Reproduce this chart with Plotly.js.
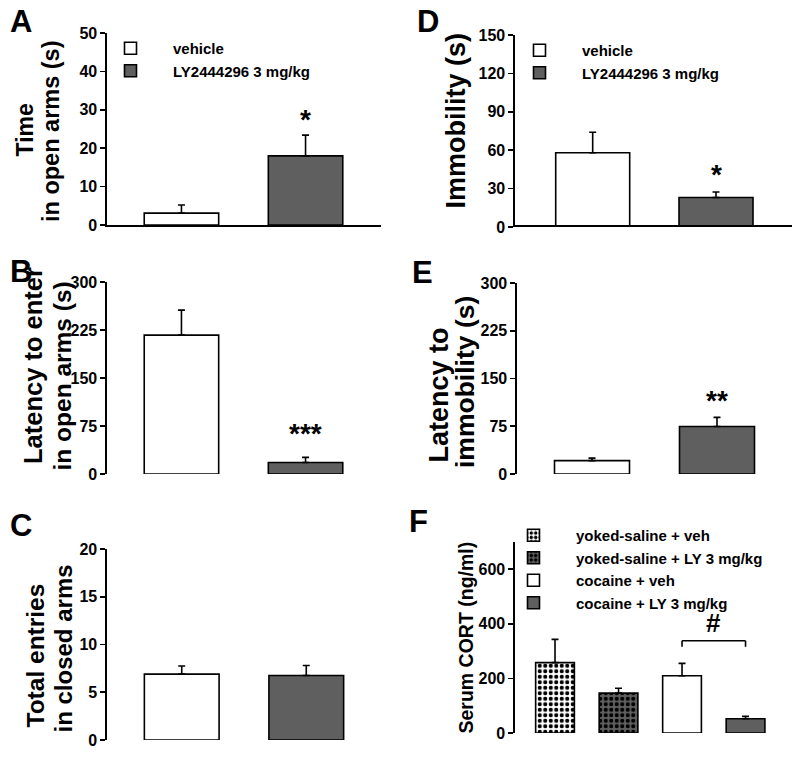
<!DOCTYPE html>
<html>
<head>
<meta charset="utf-8">
<script src="https://cdn.plot.ly/plotly-3.0.1.min.js"></script>
<style>html,body{margin:0;padding:0;background:#fff;}#chart{width:800px;height:758px;}</style>
</head>
<body>
<div id="chart"></div>
<script>
// ---------- data ----------
const groups2 = ['vehicle', 'LY2444296 3 mg/kg'];
const timeOpenArms = [3.1, 18.0];
const timeOpenArmsSem = [2.1, 5.4];
const latencyOpenArms = [217, 18];
const latencyOpenArmsSem = [39, 8];
const closedEntries = [6.9, 6.75];
const closedEntriesSem = [0.85, 1.05];
const immobility = [58, 23];
const immobilitySem = [16, 4.3];
const latencyImmobility = [21, 74.5];
const latencyImmobilitySem = [4, 14.5];
const groupsF = ['yoked-saline + veh', 'yoked-saline + LY 3 mg/kg', 'cocaine + veh', 'cocaine + LY 3 mg/kg'];
const serumCort = [258, 146, 210, 52];
const serumCortSem = [85, 18, 45, 9];
// axis titles (one entry per printed line)
const titleA = ['Time', 'in open arms (s)'];
const titleB = ['Latency to enter', 'in open arms (s)'];
const titleC = ['Total entries', 'in closed arms'];
const titleD = ['Immobility (s)'];
const titleE = ['Latency to', 'immobility (s)'];
const titleF = ['Serum CORT (ng/ml)'];
// significance marks
const sigA = {idx: 1, y: 27.6, text: '*'};
const sigB = {idx: 1, y: 62.6, text: '***'};
const sigD = {idx: 1, y: 41.4, text: '*'};
const sigE = {idx: 1, y: 116, text: '**'};
const sigF = {from: 2, to: 3, yTop: 338, yDrop: 316, yText: 403, text: '#'};

// ---------- styles ----------
const FONT = 'Liberation Sans, Arial, Helvetica, sans-serif';
const GRAY = '#5f5f5f';
const fills2 = ['#ffffff', GRAY];

const traces = [];
function addPanel(n, vals, sems, legendName) {
  const xa = 'x' + (n === 1 ? '' : n), ya = 'y' + (n === 1 ? '' : n);
  groups2.forEach((g, i) => {
    traces.push({
      type: 'bar', x: [g], y: [vals[i]], name: g, xaxis: xa, yaxis: ya,
      width: 0.6,
      marker: {color: fills2[i], line: {color: '#000', width: 1.6}},
      error_y: {type: 'data', array: [sems[i]], arrayminus: [0], symmetric: false,
                color: '#000', thickness: 1.6, width: 3.5},
      showlegend: !!legendName, legend: legendName || 'legend',
      hoverinfo: 'skip'
    });
  });
}
addPanel(1, timeOpenArms, timeOpenArmsSem, 'legend');
addPanel(2, latencyOpenArms, latencyOpenArmsSem, null);
addPanel(3, closedEntries, closedEntriesSem, null);
addPanel(4, immobility, immobilitySem, 'legend2');
addPanel(5, latencyImmobility, latencyImmobilitySem, null);

const fPatterns = [
  {shape: '.', bgcolor: '#ffffff', fgcolor: '#000', size: 5.5, solidity: 0.45, fillmode: 'replace'},
  {shape: '.', bgcolor: GRAY, fgcolor: '#000', size: 5.5, solidity: 0.45, fillmode: 'replace'},
  null, null
];
const fColors = ['#ffffff', GRAY, '#ffffff', GRAY];
groupsF.forEach((g, i) => {
  const marker = {color: fColors[i], line: {color: '#000', width: 1.6}};
  if (fPatterns[i]) marker.pattern = fPatterns[i];
  traces.push({
    type: 'bar', x: [g], y: [serumCort[i]], name: g, xaxis: 'x6', yaxis: 'y6',
    width: 0.61, marker: marker,
    error_y: {type: 'data', array: [serumCortSem[i]], arrayminus: [0], symmetric: false,
              color: '#000', thickness: 1.6, width: 3.5},
    showlegend: true, legend: 'legend3', hoverinfo: 'skip'
  });
});

// ---------- layout ----------
const W = 800, H = 758;
const px = v => v / W, py = v => 1 - v / H;
function tf(size) { return {family: FONT, size: size, color: '#000', weight: 700}; }
function xax(l, r, rng) {
  return {domain: [px(l), px(r)], range: rng, type: 'category', showticklabels: false,
          ticks: '', showline: true, linecolor: '#000', linewidth: 1.6, showgrid: false,
          zeroline: false, fixedrange: true};
}
function yax(anchor, top, bottom, rng, dtick) {
  return {domain: [py(bottom), py(top)], range: rng, dtick: dtick, tick0: 0, anchor: anchor,
          showline: true, linecolor: '#000', linewidth: 1.6, ticks: 'outside', ticklen: 5,
          tickwidth: 1.6, tickcolor: '#000', tickfont: tf(16), tickprefix: '<b>', ticksuffix: '</b>',
          showgrid: false, zeroline: false, fixedrange: true};
}
const legendBase = {
  font: tf(15),
  bgcolor: 'rgba(0,0,0,0)', borderwidth: 0, xanchor: 'left', yanchor: 'top',
  itemwidth: 75, traceorder: 'normal', itemclick: false, itemdoubleclick: false
};
// one rotated annotation per title line: x = line centre (px), y = centre along axis (px)
function yLine(text, x, y, size) {
  return {xref: 'paper', yref: 'paper', x: px(x), y: py(y), textangle: -90,
          text: '<b>' + text + '</b>', showarrow: false,
          xanchor: 'center', yanchor: 'middle', font: tf(size)};
}
function starAnn(xref, yref, cat, y, text, size) {
  return {xref: xref, yref: yref, x: cat, y: y, text: '<b>' + text + '</b>', showarrow: false,
          font: tf(size), xanchor: 'center', yanchor: 'middle'};
}
function letter(t, x, y) {
  return {xref: 'paper', yref: 'paper', x: px(x), y: py(y), text: '<b>' + t + '</b>', showarrow: false,
          xanchor: 'left', yanchor: 'top', font: tf(31)};
}

const layout = {
  width: W, height: H, margin: {l: 0, r: 0, t: 0, b: 0},
  paper_bgcolor: '#fff', plot_bgcolor: '#fff', barmode: 'overlay',
  showlegend: true,
  xaxis: xax(107, 380, [-0.6, 1.6]),
  yaxis: yax('x', 33, 225, [0, 50], 10),
  xaxis2: xax(107, 380, [-0.6, 1.6]),
  yaxis2: yax('x2', 282, 474, [0, 300], 75),
  xaxis3: xax(107, 381, [-0.6, 1.6]),
  yaxis3: yax('x3', 549, 740, [0, 20], 5),
  xaxis4: xax(515, 790, [-0.63, 1.6]),
  yaxis4: yax('x4', 35, 227, [0, 150], 30),
  xaxis5: xax(517, 792, [-0.6, 1.6]),
  yaxis5: yax('x5', 283, 474, [0, 300], 75),
  xaxis6: xax(515, 790, [-0.63, 3.7]),
  yaxis6: yax('x6', 542, 733, [0, 700], 200),
  legend: Object.assign({}, legendBase, {x: px(88), y: py(32)}),
  legend2: Object.assign({}, legendBase, {x: px(497), y: py(34)}),
  legend3: Object.assign({}, legendBase, {x: px(491), y: py(519)}),
  shapes: [
    {type: 'line', xref: 'x6', yref: 'y6', x0: sigF.from, x1: sigF.from, y0: sigF.yDrop, y1: sigF.yTop, line: {color: '#000', width: 1.6}},
    {type: 'line', xref: 'x6', yref: 'y6', x0: sigF.from, x1: sigF.to, y0: sigF.yTop, y1: sigF.yTop, line: {color: '#000', width: 1.6}},
    {type: 'line', xref: 'x6', yref: 'y6', x0: sigF.to, x1: sigF.to, y0: sigF.yDrop, y1: sigF.yTop, line: {color: '#000', width: 1.6}}
  ],
  annotations: [
    yLine(titleA[0], 24.5, 130, 23), yLine(titleA[1], 51, 131, 23.5),
    yLine(titleB[0], 33, 366, 25.5), yLine(titleB[1], 61.5, 376, 24.5),
    yLine(titleC[0], 34.5, 656, 24.5), yLine(titleC[1], 62.5, 649, 24),
    yLine(titleD[0], 455.5, 121, 27),
    yLine(titleE[0], 438.5, 395, 27), yLine(titleE[1], 465, 382, 26.5),
    yLine(titleF[0], 465, 637.5, 19.5),
    starAnn('x', 'y', sigA.idx, sigA.y, sigA.text, 28),
    starAnn('x2', 'y2', sigB.idx, sigB.y, sigB.text, 28),
    starAnn('x4', 'y4', sigD.idx, sigD.y, sigD.text, 28),
    starAnn('x5', 'y5', sigE.idx, sigE.y, sigE.text, 28),
    starAnn('x6', 'y6', (sigF.from + sigF.to) / 2, sigF.yText, sigF.text, 26),
    letter('A', 8, 2), letter('B', 8, 252), letter('C', 8, 506),
    letter('D', 415, 2), letter('E', 410, 253), letter('F', 407, 502)
  ]
};

Plotly.newPlot('chart', traces, layout, {staticPlot: true, displayModeBar: false});
</script>
</body>
</html>
